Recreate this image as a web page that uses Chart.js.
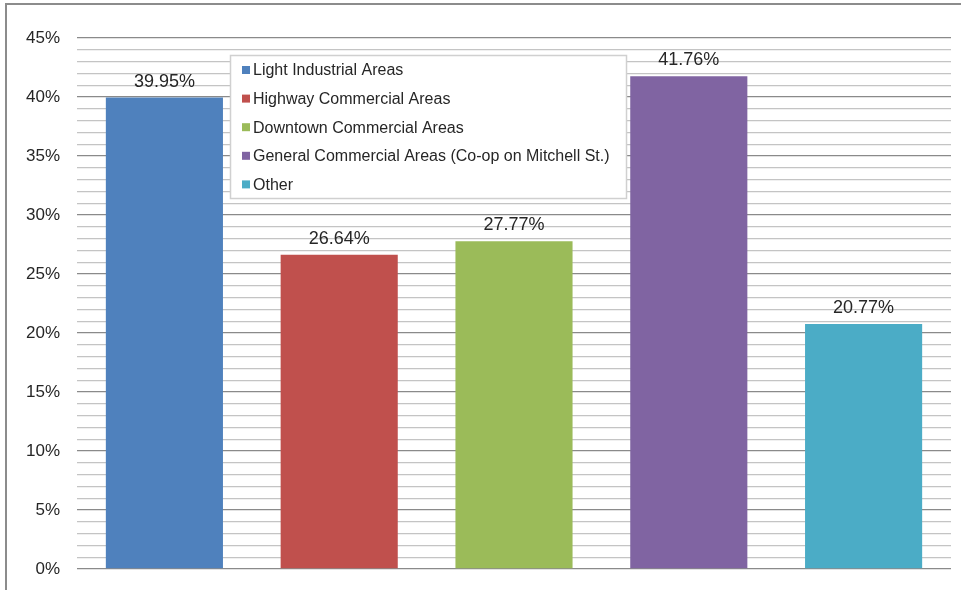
<!DOCTYPE html>
<html>
<head>
<meta charset="utf-8">
<script src="https://cdn.jsdelivr.net/npm/chart.js@4"></script>
<style>
  html, body { margin: 0; padding: 0; background: #fff; }
  #wrap { position: relative; width: 961px; height: 590px; }
  #frame { position: absolute; left: 5px; top: 3px; right: -4px; bottom: -4px; border: 2px solid #8c8c8c; }
  canvas { position: absolute; left: 0; top: 0; }
</style>
</head>
<body>
<div id="wrap">
  <div id="frame"></div>
  <canvas id="chart" width="961" height="590"></canvas>
</div>
<script>
// categories, values and colours
const categories = [
  'Light Industrial Areas',
  'Highway Commercial Areas',
  'Downtown Commercial Areas',
  'General Commercial Areas (Co-op on Mitchell St.)',
  'Other'
];
const shares = [39.95, 26.64, 27.77, 41.76, 20.77];
const barColors = ['#4f81bd', '#c0504d', '#9bbb59', '#8064a2', '#4bacc6'];
const yTickLabels = [0, 5, 10, 15, 20, 25, 30, 35, 40, 45];
const yMinorStep = 1;

const FONT = '"Century Gothic", "Liberation Sans", Arial, sans-serif';

// value labels above each bar
const barLabels = {
  id: 'barLabels',
  afterDatasetsDraw(chart) {
    const ctx = chart.ctx;
    const meta = chart.getDatasetMeta(0);
    ctx.save();
    ctx.font = '18px ' + FONT;
    ctx.fillStyle = '#262626';
    ctx.textAlign = 'center';
    ctx.textBaseline = 'alphabetic';
    meta.data.forEach((bar, i) => {
      ctx.fillText(shares[i].toFixed(2) + '%', bar.x, bar.y - 11);
    });
    ctx.restore();
  }
};

// legend box sitting inside the plot, like the original
const boxLegend = {
  id: 'boxLegend',
  afterDatasetsDraw(chart) {
    const ctx = chart.ctx;
    const x = 230, y = 55, w = 396, h = 143;
    ctx.save();
    ctx.fillStyle = '#fff';
    ctx.fillRect(x, y, w, h);
    ctx.strokeStyle = '#d0d0d0';
    ctx.lineWidth = 1.5;
    ctx.strokeRect(x + 0.5, y + 0.5, w, h);
    ctx.font = '16px ' + FONT;
    ctx.textBaseline = 'middle';
    categories.forEach((c, i) => {
      const cy = y + 15 + i * 28.6;
      ctx.fillStyle = barColors[i];
      ctx.fillRect(x + 12, cy - 4, 8, 8);
      ctx.fillStyle = '#262626';
      ctx.fillText(c, x + 23, cy + 1);
    });
    ctx.restore();
  }
};

new Chart(document.getElementById('chart'), {
  type: 'bar',
  data: {
    labels: categories,
    datasets: [{
      data: shares,
      backgroundColor: barColors,
      borderWidth: 0,
      barPercentage: 0.67,
      categoryPercentage: 1
    }]
  },
  options: {
    responsive: false,
    animation: false,
    layout: { padding: { left: 0, right: 10, top: 38, bottom: 21 } },
    plugins: {
      legend: { display: false },
      tooltip: { enabled: false }
    },
    scales: {
      x: { display: false },
      y: {
        min: 0,
        max: yTickLabels[yTickLabels.length - 1],
        afterFit(scale) {
          scale.width = 77;
          scale.paddingTop = 0;
          scale.paddingBottom = 0;
        },
        afterBuildTicks(scale) {
          const t = [];
          for (let v = 0; v <= scale.max; v += yMinorStep) t.push({ value: v });
          scale.ticks = t;
        },
        border: { display: false },
        grid: {
          drawTicks: false,
          lineWidth: 1.3,
          color: c => yTickLabels.includes(c.tick.value) ? '#8a8a8a' : '#c4c4c4'
        },
        ticks: {
          autoSkip: false,
          padding: 17,
          color: '#262626',
          font: { family: FONT, size: 17 },
          callback: v => yTickLabels.includes(v) ? v + '%' : ''
        }
      }
    }
  },
  plugins: [barLabels, boxLegend]
});
</script>
</body>
</html>
